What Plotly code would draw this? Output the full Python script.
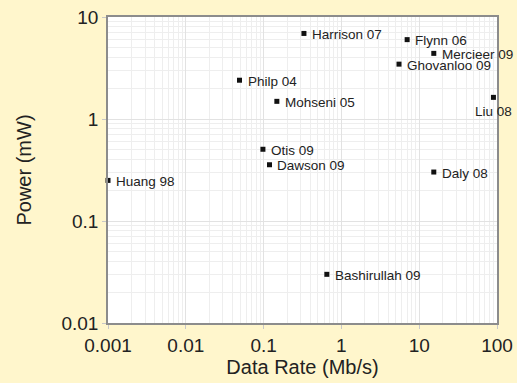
import math
import plotly.graph_objects as go

names = ["Huang 98", "Philp 04", "Harrison 07", "Flynn 06", "Mercieer 09", "Ghovanloo 09",
         "Liu 08", "Mohseni 05", "Otis 09", "Dawson 09", "Daly 08", "Bashirullah 09"]
data_rate = [0.001, 0.049, 0.33, 7.0, 15.4, 5.5, 90.0, 0.148, 0.098, 0.119, 15.4, 0.65]
power = [0.25, 2.4, 6.9, 6.0, 4.4, 3.45, 1.63, 1.49, 0.505, 0.356, 0.302, 0.030]
below = [False] * 6 + [True] + [False] * 5

x_ticks = [0.001, 0.01, 0.1, 1, 10, 100]
x_ticktext = ["0.001", "0.01", "0.1", "1", "10", "100"]
y_ticks = [0.01, 0.1, 1, 10]
y_ticktext = ["0.01", "0.1", "1", "10"]

FONT = "Liberation Sans, Arial"
BG = "#fff6cc"

fig = go.Figure(go.Scatter(
    x=data_rate, y=power, mode="markers",
    marker=dict(symbol="square", size=5, color="#111111"),
    cliponaxis=False, showlegend=False, hoverinfo="skip",
))

for n, xv, yv, b in zip(names, data_rate, power, below):
    lx, ly = math.log10(xv), math.log10(yv)
    if b:
        fig.add_annotation(x=lx, y=ly, xref="x", yref="y", text=n, showarrow=False,
                           xanchor="center", yanchor="top", yshift=-5, xshift=0,
                           font=dict(family=FONT, size=13.5, color="#222222"))
    else:
        fig.add_annotation(x=lx, y=ly, xref="x", yref="y", text=n, showarrow=False,
                           xanchor="left", yanchor="middle", xshift=6, yshift=-1,
                           font=dict(family=FONT, size=13.5, color="#222222"))

axis_common = dict(
    type="log", showline=True, linecolor="#8c8c8c", linewidth=1.5, mirror=True,
    ticks="outside", ticklen=4, tickcolor="#c8c8c8", showgrid=True, gridcolor="#e2e2e2",
    gridwidth=1, zeroline=False, automargin=False,
    tickfont=dict(family=FONT, size=19, color="#222222"),
    minor=dict(dtick="D1", showgrid=True, gridcolor="#eeeeee", gridwidth=1, ticks=""),
)

fig.update_xaxes(**axis_common, range=[-3, 2], tickvals=x_ticks, ticktext=x_ticktext,
                 title=dict(text="Data Rate (Mb/s)", standoff=4,
                            font=dict(family=FONT, size=20, color="#222222")))
fig.update_yaxes(**axis_common, range=[-2, 1], tickvals=y_ticks, ticktext=y_ticktext,
                 title=dict(text="Power (mW)", standoff=24,
                            font=dict(family=FONT, size=20, color="#222222")))

fig.update_layout(
    width=517, height=383,
    margin=dict(l=108, r=20, t=17, b=60, autoexpand=False),
    paper_bgcolor=BG, plot_bgcolor="#ffffff",
)

fig.write_html("out.html", config={"displayModeBar": False},
               post_script="document.body.style.margin='0';document.body.style.background='%s';" % BG)
